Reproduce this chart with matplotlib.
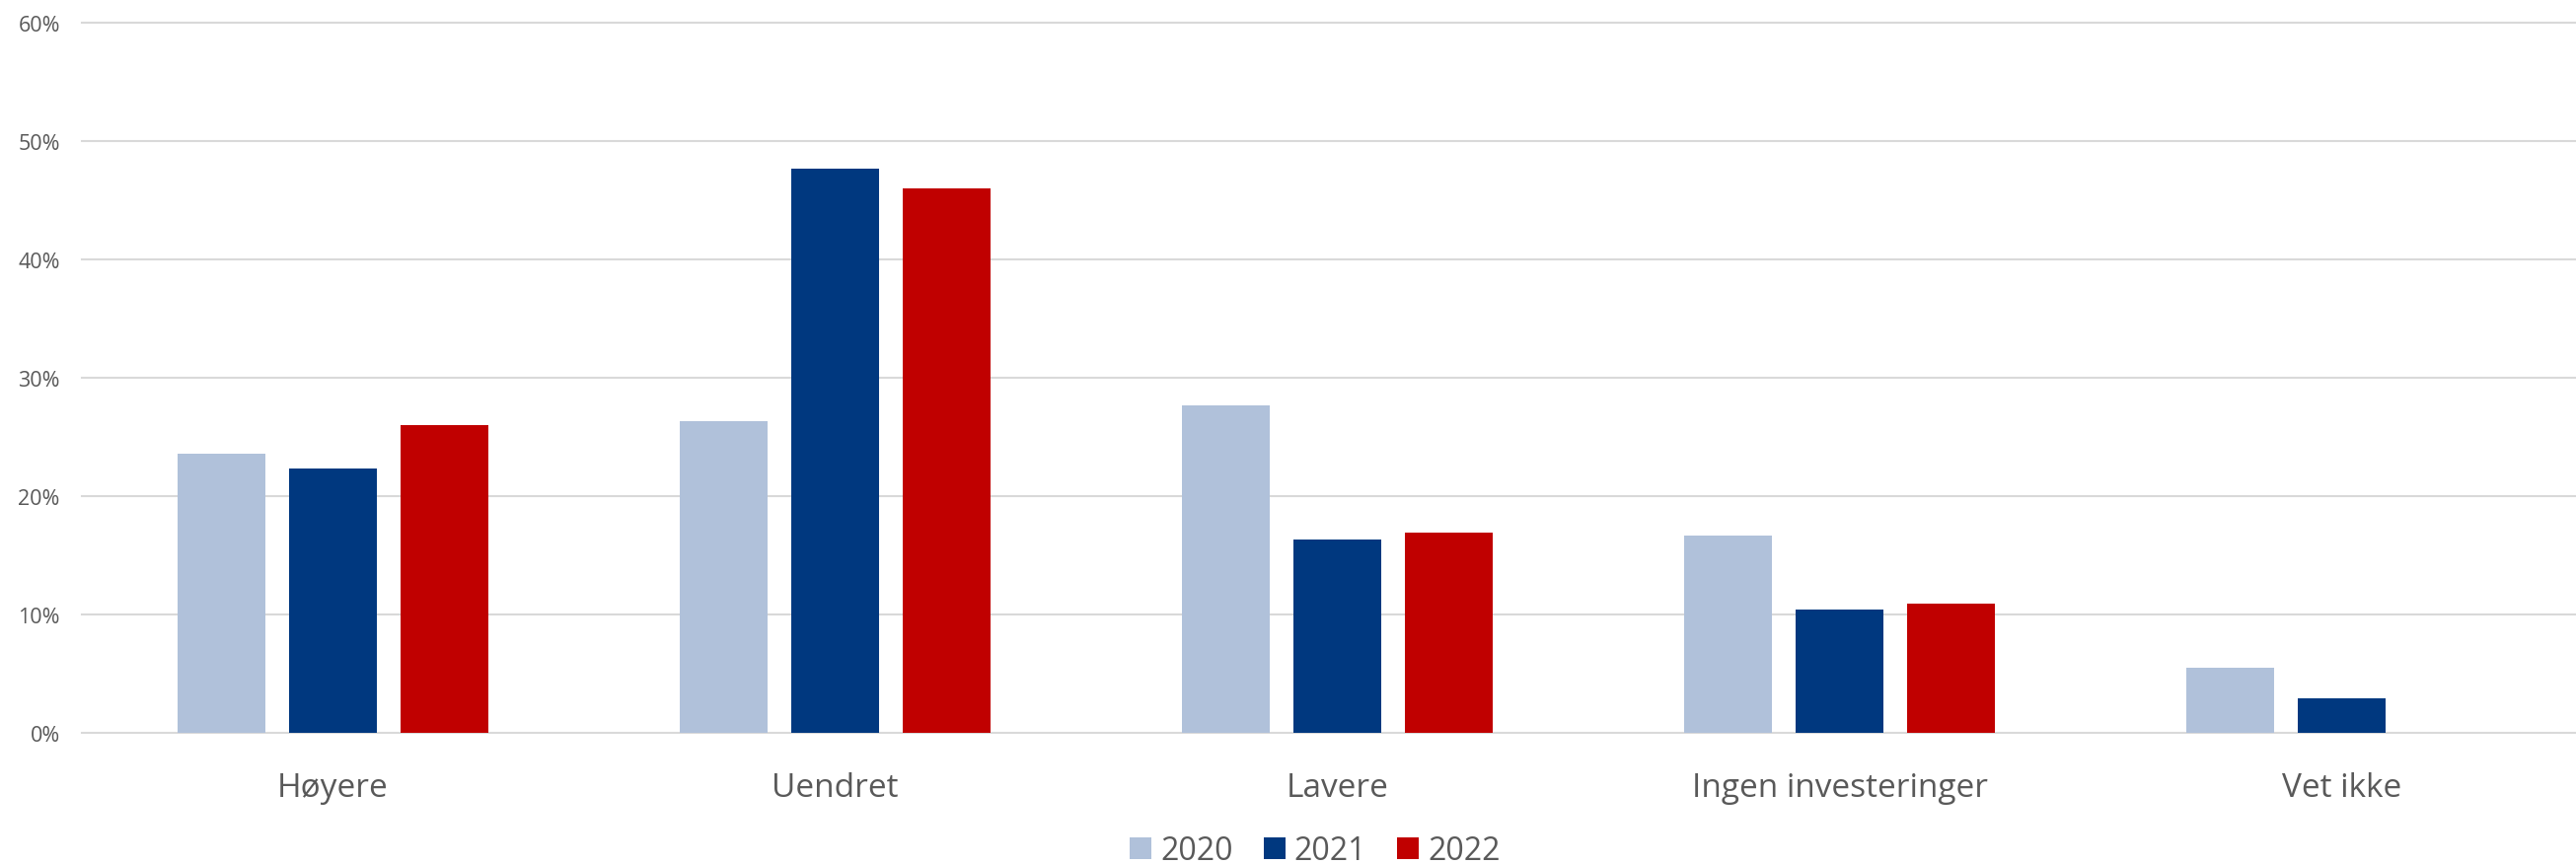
import numpy as np
import matplotlib.pyplot as plt
from matplotlib.ticker import PercentFormatter

plt.rcParams['font.family'] = ['Open Sans', 'DejaVu Sans']

# data
kategorier = ["Høyere", "Uendret", "Lavere", "Ingen investeringer", "Vet ikke"]
aar = ["2020", "2021", "2022"]
v2020 = [0.236, 0.263, 0.277, 0.167, 0.055]
v2021 = [0.223, 0.477, 0.163, 0.104, 0.029]
v2022 = [0.260, 0.460, 0.169, 0.109, 0.0]
farger = ["#B0C1DA", "#00387F", "#C00000"]

W, H = 2611, 878
fig = plt.figure(figsize=(W / 100, H / 100), dpi=100, facecolor="white")
# plot area in pixels: x 83..2628, y 24..744
ax = fig.add_axes([83 / W, (H - 744) / H, (2628 - 83) / W, 720 / H])

x = np.arange(len(kategorier))
bredde = 0.175
steg = 0.222
for i, (verdier, farge, navn) in enumerate(zip([v2020, v2021, v2022], farger, aar)):
    ax.bar(x + (i - 1) * steg, verdier, width=bredde, color=farge, label=navn,
           zorder=3, linewidth=0)

ax.set_xlim(-0.5, len(kategorier) - 0.5)
ax.set_ylim(0, 0.6)
ax.set_yticks(np.arange(0, 0.61, 0.1))
ax.yaxis.set_major_formatter(PercentFormatter(1.0, decimals=0))
ax.set_xticks(x)
ax.set_xticklabels(kategorier)

ax.grid(axis="y", color="#D9D9D9", linewidth=1.5, zorder=0)
for gl in ax.get_ygridlines():
    gl.set_clip_on(False)
for s in ax.spines.values():
    s.set_visible(False)

ax.tick_params(axis="y", length=0, pad=16, labelsize=15.5, labelcolor="#595959")
ax.tick_params(axis="x", length=0, pad=28, labelsize=24, labelcolor="#595959")

fig.legend(loc="center", bbox_to_anchor=(1333 / W, 14 / H), ncol=3, frameon=False,
           fontsize=23, labelcolor="#595959", handlelength=0.69, handleheight=0.69,
           handletextpad=0.28, columnspacing=0.97, borderpad=0)

fig.savefig("out.png", dpi=100, facecolor="white")
